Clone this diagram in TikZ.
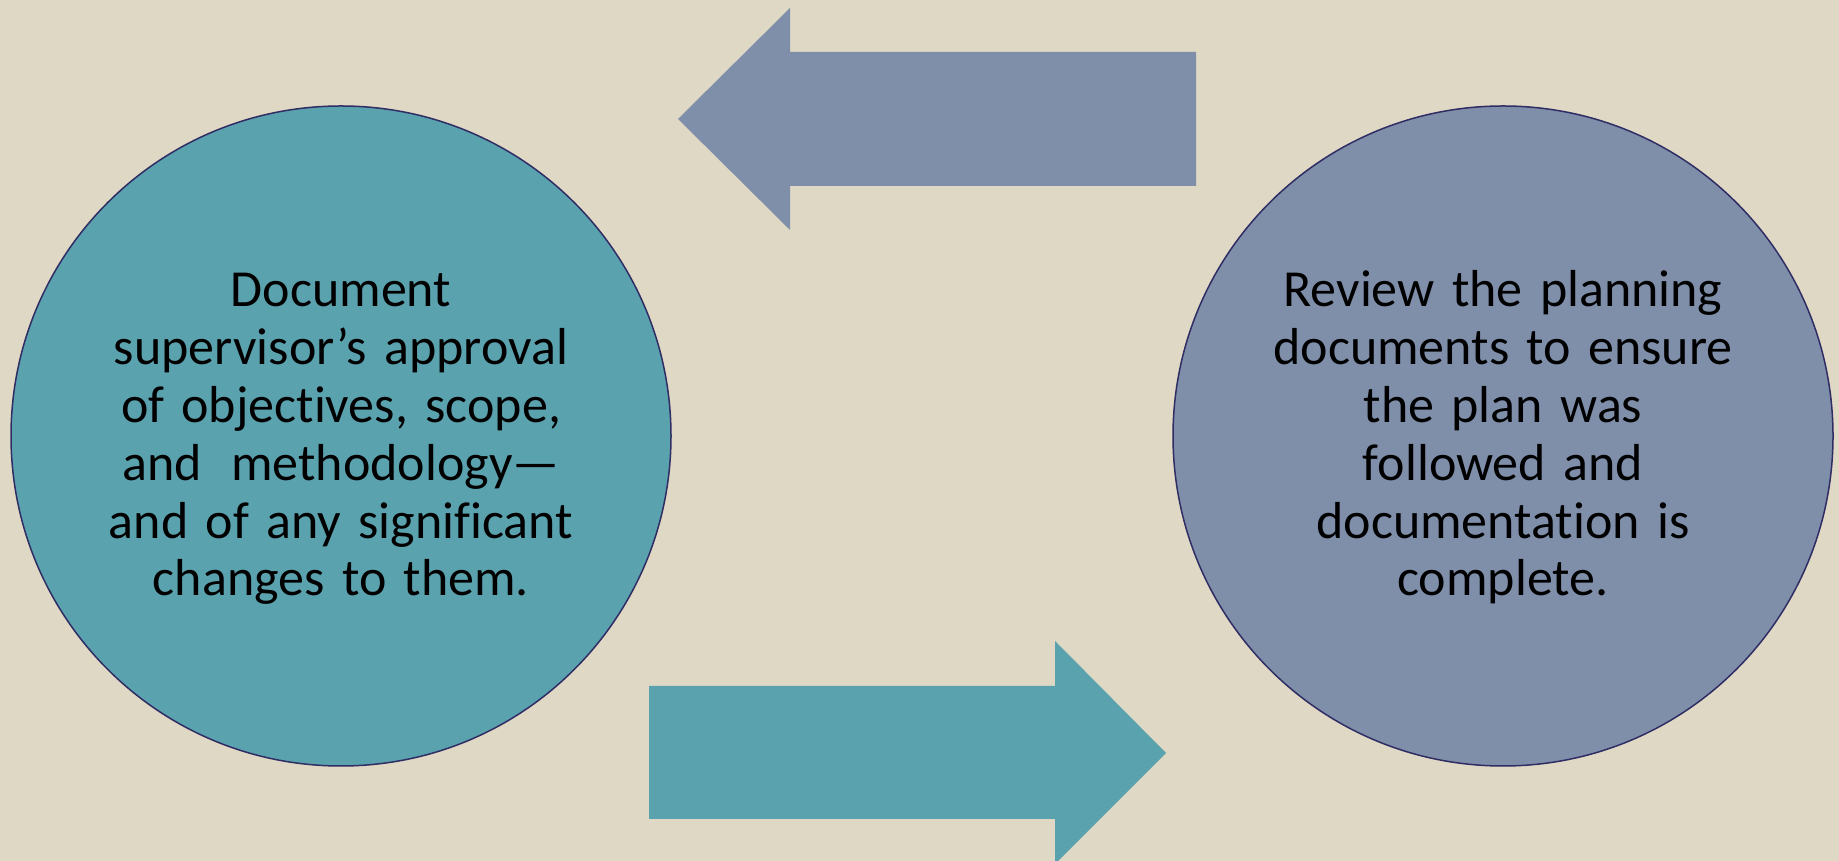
\documentclass[tikz,border=0pt]{standalone}
\usepackage{fontspec}
\setmainfont[Ligatures={NoCommon}]{Carlito}
\begin{document}
\begin{tikzpicture}[x=1pt,y=1pt,
  bubble/.style={circle, draw=ringline, line width=1.5pt, minimum size=660pt, inner sep=0pt},
  label/.style={text width=520pt, align=center, anchor=base, inner sep=0pt,
    font=\fontsize{52}{57.8}\selectfont, text=black},
  blockarrow/.style={draw=none}
]
\definecolor{paper}{RGB}{223,216,196}
\definecolor{tealfill}{RGB}{91,162,175}
\definecolor{slatefill}{RGB}{127,143,170}
\definecolor{ringline}{RGB}{47,45,100}

\useasboundingbox (0,0) rectangle (1839,861);
\clip (0,0) rectangle (1839,861);
\fill[paper] (0,0) rectangle (1839,861);

% return arrow, pointing left
\fill[slatefill, blockarrow] (678,742) -- (790,853) -- (790,809) -- (1196,809)
  -- (1196,675) -- (790,675) -- (790,631) -- cycle;

% forward arrow, pointing right
\fill[tealfill, blockarrow] (649,175) -- (1055,175) -- (1055,220) -- (1166,108)
  -- (1055,-3) -- (1055,42) -- (649,42) -- cycle;

% the two stages
\node[bubble, fill=tealfill] (approve) at (341,425) {};
\node[bubble, fill=slatefill] (review) at (1503,425) {};

\node[label] (approvetext) at (341,554) {Document\\
supervisor’s approval\\
of objectives, scope,\\
and\ \kern-5pt\ methodology—\\
and of any significant\\
changes to them.};

\node[label] (reviewtext) at (1503,554) {Review the planning\\
documents to ensure\\
the plan was\\
followed and\\
documentation is\\
complete.};
\end{tikzpicture}
\end{document}
